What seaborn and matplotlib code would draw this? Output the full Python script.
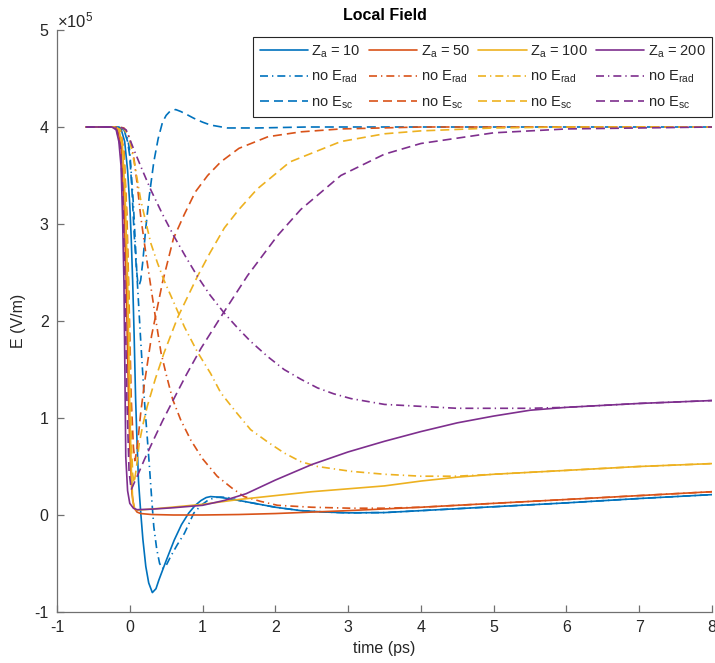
import matplotlib
matplotlib.use("Agg")
import matplotlib.pyplot as plt
import seaborn as sns

# Local field E(t) in units of 1e5 V/m, time in ps.
# Full model (solid), without radiation field (dash-dot), without space-charge field (dashed)

# ---- Z_a = 10 ----
t_z10 = [-0.6, -0.2, -0.12, -0.07, -0.03, 0.0, 0.02, 0.04, 0.06, 0.08, 0.10, 0.12, 0.15, 0.18,
         0.22, 0.26, 0.31, 0.36, 0.40, 0.5, 0.61, 0.71, 0.81, 0.9, 0.98, 1.05, 1.11, 1.2, 1.35,
         1.5, 1.75, 2.0, 2.35, 2.7, 3.0, 3.5, 4.0, 5.0, 6.0, 7.0, 8.0]
e_z10 = [4.0, 4.0, 3.98, 3.85, 3.55, 3.2, 2.85, 2.4, 1.85, 1.2, 0.75, 0.35, 0.03, -0.25,
         -0.53, -0.70, -0.80, -0.76, -0.67, -0.47, -0.26, -0.1, 0.02, 0.1, 0.15, 0.18, 0.19, 0.185, 0.17,
         0.15, 0.115, 0.08, 0.045, 0.03, 0.022, 0.025, 0.045, 0.085, 0.125, 0.17, 0.21]

t_z10_norad = [-0.6, -0.15, -0.08, -0.03, 0.0, 0.05, 0.1, 0.15, 0.2, 0.24, 0.27, 0.3, 0.33, 0.37,
               0.41, 0.45, 0.5, 0.56, 0.65, 0.75, 0.88, 0.98, 1.07, 1.17, 1.25, 1.35, 1.5, 1.75,
               2.0, 2.35, 2.7, 3.0, 3.5, 4.0, 5.0, 6.0, 7.0, 8.0]
e_z10_norad = [4.0, 4.0, 3.97, 3.88, 3.75, 3.2, 2.45, 1.8, 1.19, 0.8, 0.5, 0.18, -0.12, -0.35,
               -0.5, -0.55, -0.52, -0.43, -0.31, -0.19, 0.02, 0.1, 0.15, 0.18, 0.185, 0.18, 0.15, 0.115,
               0.08, 0.045, 0.03, 0.022, 0.025, 0.045, 0.085, 0.125, 0.17, 0.21]

t_z10_nosc = [-0.6, -0.15, -0.08, -0.03, 0.0, 0.03, 0.06, 0.09, 0.11, 0.13, 0.15, 0.18, 0.22, 0.27,
              0.33, 0.39, 0.45, 0.5, 0.55, 0.63, 0.7, 0.78, 0.88, 1.0, 1.11, 1.34, 1.75, 2.44, 3.0,
              4.0, 8.0]
e_z10_nosc = [4.0, 4.0, 3.97, 3.85, 3.7, 3.35, 2.9, 2.55, 2.4, 2.37, 2.42, 2.62, 2.96, 3.3,
              3.64, 3.88, 4.05, 4.12, 4.16, 4.18, 4.16, 4.13, 4.09, 4.05, 4.02, 3.99, 3.99, 4.0, 4.0,
              4.0, 4.0]

# ---- Z_a = 50 ----
t_z50 = [-0.6, -0.25, -0.17, -0.12, -0.08, -0.05, -0.02, 0.0, 0.03, 0.06, 0.1, 0.15, 0.3, 0.6,
         1.0, 1.5, 2.0, 2.5, 3.0, 4.0, 5.0, 6.0, 7.0, 8.0]
e_z50 = [4.0, 4.0, 3.98, 3.8, 3.2, 2.4, 1.3, 0.7, 0.22, 0.07, 0.03, 0.015, 0.005, 0.0,
         0.0, 0.005, 0.015, 0.03, 0.045, 0.08, 0.12, 0.16, 0.2, 0.24]

t_z50_norad = [-0.6, -0.15, -0.08, -0.03, 0.02, 0.06, 0.1, 0.15, 0.22, 0.29, 0.36, 0.43, 0.5, 0.59,
               0.7, 0.84, 1.0, 1.2, 1.4, 1.57, 1.8, 2.03, 2.5, 3.04, 3.5, 4.0, 5.0, 6.0, 7.0, 8.0]
e_z50_norad = [4.0, 4.0, 3.99, 3.94, 3.82, 3.66, 3.42, 3.08, 2.7, 2.35, 2.0, 1.67, 1.45, 1.19,
               0.98, 0.77, 0.58, 0.4, 0.28, 0.19, 0.14, 0.1, 0.08, 0.07, 0.07, 0.08, 0.12, 0.16, 0.2, 0.24]

t_z50_nosc = [-0.6, -0.2, -0.13, -0.08, -0.04, -0.01, 0.02, 0.05, 0.07, 0.1, 0.15, 0.2, 0.3, 0.45,
              0.6, 0.75, 0.9, 1.07, 1.25, 1.5, 1.9, 2.35, 2.9, 4.0, 8.0]
e_z50_nosc = [4.0, 4.0, 3.97, 3.75, 3.1, 2.2, 1.2, 0.7, 0.56, 0.68, 1.05, 1.35, 1.85, 2.4,
              2.85, 3.1, 3.33, 3.5, 3.64, 3.78, 3.9, 3.95, 3.98, 4.0, 4.0]

# ---- Z_a = 100 ----
t_z100 = [-0.6, -0.22, -0.15, -0.1, -0.06, -0.03, 0.0, 0.02, 0.04, 0.07, 0.1, 0.2, 0.5, 1.0,
          1.5, 2.0, 2.5, 3.0, 3.5, 4.0, 4.5, 5.0, 6.0, 7.0, 8.0]
e_z100 = [4.0, 4.0, 3.98, 3.8, 3.2, 2.4, 1.1, 0.5, 0.15, 0.06, 0.05, 0.055, 0.075, 0.11,
          0.16, 0.2, 0.24, 0.27, 0.3, 0.35, 0.39, 0.42, 0.46, 0.5, 0.53]

t_z100_norad = [-0.6, -0.15, -0.08, -0.01, 0.07, 0.15, 0.22, 0.29, 0.38, 0.47, 0.6, 0.75, 0.93, 1.11,
                1.25, 1.45, 1.66, 1.9, 2.12, 2.35, 2.58, 3.04, 3.5, 4.0, 4.5, 5.0, 6.0, 7.0, 8.0]
e_z100_norad = [4.0, 4.0, 3.98, 3.9, 3.6, 3.25, 3.02, 2.8, 2.6, 2.42, 2.2, 1.94, 1.68, 1.46,
                1.26, 1.07, 0.88, 0.75, 0.64, 0.55, 0.5, 0.45, 0.42, 0.4, 0.4, 0.42, 0.46, 0.5, 0.53]

t_z100_nosc = [-0.6, -0.2, -0.13, -0.08, -0.05, -0.02, 0.0, 0.02, 0.04, 0.06, 0.09, 0.13, 0.18, 0.24,
               0.35, 0.47, 0.66, 0.93, 1.1, 1.3, 1.5, 1.75, 2.2, 2.9, 3.5, 4.0, 5.0, 6.0, 8.0]
e_z100_nosc = [4.0, 4.0, 3.97, 3.7, 3.2, 2.4, 1.6, 0.8, 0.42, 0.33, 0.48, 0.74, 0.93, 1.12,
               1.4, 1.67, 2.04, 2.46, 2.7, 2.96, 3.15, 3.36, 3.64, 3.85, 3.93, 3.96, 3.99, 4.0, 4.0]

# ---- Z_a = 200 ----
t_z200 = [-0.6, -0.25, -0.19, -0.15, -0.12, -0.1, -0.08, -0.055, -0.03, 0.0, 0.05, 0.1, 0.3, 0.6,
          1.0, 1.3, 1.6, 2.0, 2.5, 3.0, 3.5, 4.0, 4.5, 5.0, 5.5, 6.0, 7.0, 8.0]
e_z200 = [4.0, 4.0, 3.98, 3.85, 3.6, 3.1, 2.4, 0.6, 0.25, 0.12, 0.07, 0.055, 0.06, 0.075,
          0.1, 0.15, 0.22, 0.36, 0.52, 0.65, 0.76, 0.86, 0.95, 1.02, 1.08, 1.11, 1.15, 1.18]

t_z200_norad = [-0.6, -0.2, -0.1, -0.05, 0.06, 0.17, 0.29, 0.45, 0.61, 0.77, 0.93, 1.1, 1.3, 1.48,
                1.66, 1.9, 2.12, 2.35, 2.58, 2.8, 3.04, 3.5, 4.0, 4.5, 5.0, 5.5, 6.0, 7.0, 8.0]
e_z200_norad = [4.0, 4.0, 3.99, 3.97, 3.76, 3.56, 3.35, 3.1, 2.87, 2.66, 2.46, 2.27, 2.08, 1.93,
                1.79, 1.63, 1.5, 1.4, 1.31, 1.25, 1.2, 1.14, 1.12, 1.1, 1.1, 1.1, 1.11, 1.15, 1.18]

t_z200_nosc = [-0.6, -0.25, -0.18, -0.13, -0.1, -0.07, -0.04, -0.01, 0.02, 0.06, 0.12, 0.2, 0.33, 0.45,
               0.6, 0.78, 0.98, 1.3, 1.62, 2.03, 2.35, 2.9, 3.5, 4.0, 5.0, 6.0, 7.0, 8.0]
e_z200_nosc = [4.0, 4.0, 3.97, 3.8, 3.4, 2.5, 1.2, 0.45, 0.26, 0.33, 0.43, 0.57, 0.78, 0.97,
               1.19, 1.45, 1.72, 2.1, 2.47, 2.88, 3.15, 3.5, 3.72, 3.83, 3.94, 3.98, 3.99, 4.0]

z_values = [10, 50, 100, 200]
colors = ["#0072BD", "#D95319", "#EDB120", "#7E2F8E"]
series = [
    [(t_z10, e_z10), (t_z10_norad, e_z10_norad), (t_z10_nosc, e_z10_nosc)],
    [(t_z50, e_z50), (t_z50_norad, e_z50_norad), (t_z50_nosc, e_z50_nosc)],
    [(t_z100, e_z100), (t_z100_norad, e_z100_norad), (t_z100_nosc, e_z100_nosc)],
    [(t_z200, e_z200), (t_z200_norad, e_z200_norad), (t_z200_nosc, e_z200_nosc)],
]

x_ticks = [-1, 0, 1, 2, 3, 4, 5, 6, 7, 8]
y_ticks = [-1, 0, 1, 2, 3, 4, 5]

sns.set_theme(style="white")
plt.rcParams["font.family"] = ["Liberation Sans", "DejaVu Sans"]
plt.rcParams["axes.unicode_minus"] = False
plt.rcParams["mathtext.default"] = "regular"

fig = plt.figure(figsize=(7.15, 6.63), dpi=100)
ax = fig.add_axes([57 / 715, 1 - 612 / 663, (712 - 57) / 715, (612 - 30) / 663])

lw = 1.2
styles = ["-", (0, (4.8, 2.4, 0.8, 2.4)), (0, (5.4, 3.0))]


def labels_for(z):
    return [f"Z$_a$ = {z}", "no E$_{rad}$", "no E$_{sc}$"]


handles = []
for z, col, group in zip(z_values, colors, series):
    for (t, e), ls, lab in zip(group, styles, labels_for(z)):
        sns.lineplot(x=t, y=e, ax=ax, color=col, linestyle=ls, linewidth=lw,
                     estimator=None, sort=False, label=lab, legend=False)
        handles.append(ax.get_lines()[-1])

ax.set_xlim(-1, 8)
ax.set_ylim(-1, 5)
ax.set_xticks(x_ticks)
ax.set_yticks(y_ticks)
ax.set_xticklabels([str(v) for v in x_ticks])
ax.set_yticklabels([str(v) for v in y_ticks])

spine_col = "#707070"
for s in ["top", "right"]:
    ax.spines[s].set_visible(False)
for s in ["left", "bottom"]:
    ax.spines[s].set_color(spine_col)
    ax.spines[s].set_linewidth(0.9)
ax.tick_params(axis="both", direction="in", length=5, width=0.9, color=spine_col,
               labelsize=11.5, labelcolor="#262626", pad=6)
ax.tick_params(axis="x", bottom=True)
ax.tick_params(axis="y", left=True)

ax.set_xlabel("time (ps)", fontsize=11.5, color="#262626", labelpad=4)
ax.set_ylabel("E (V/m)", fontsize=11.5, color="#262626", labelpad=6)
ax.set_title("Local Field", fontsize=11.5, fontweight="bold", color="#000000", pad=7)
ax.text(0.0, 1.0, r"$\times$10$^{5}$", transform=ax.transAxes, ha="left", va="bottom",
        fontsize=12, color="#262626")

leg = ax.legend(handles=handles, ncol=4, loc="upper right", bbox_to_anchor=(1.0, 0.988),
                borderaxespad=0.0,
                fontsize=10.5, handlelength=3.3, handletextpad=0.25, columnspacing=0.55,
                labelspacing=0.62, borderpad=0.45, frameon=True, fancybox=False,
                edgecolor="#262626", framealpha=1.0)
leg.get_frame().set_linewidth(0.8)

fig.savefig("out.png", dpi=100, facecolor="white")
